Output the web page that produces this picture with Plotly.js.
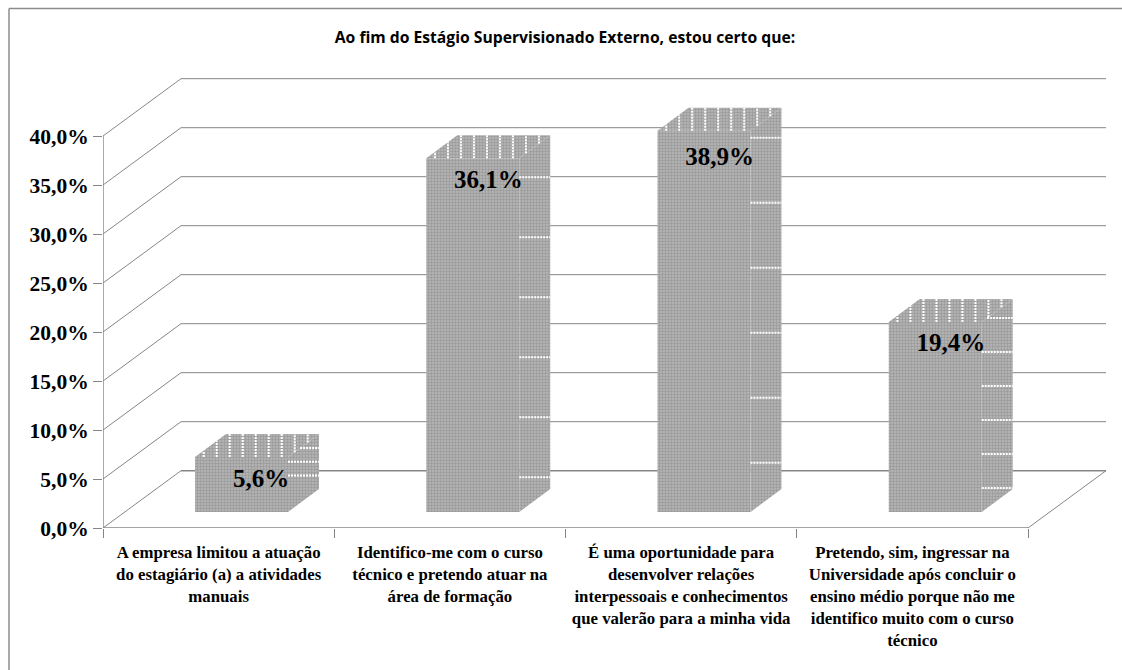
<!DOCTYPE html>
<html>
<head>
<meta charset="utf-8">
<script src="https://cdn.plot.ly/plotly-3.0.1.min.js"></script>
<style>html,body{margin:0;padding:0;background:#fff}#chart{width:1122px;height:670px}</style>
</head>
<body>
<div id="chart"></div>
<script>
// Survey answers, in percent
const categories = [
  "A empresa limitou a atuação<br>do estagiário (a) a atividades<br>manuais",
  "Identifico-me com o curso<br>técnico e pretendo atuar na<br>área de formação",
  "É uma oportunidade para<br>desenvolver relações<br>interpessoais e conhecimentos<br>que valerão para a minha vida",
  "Pretendo, sim, ingressar na<br>Universidade após concluir o<br>ensino médio porque não me<br>identifico muito com o curso<br>técnico"
];
const values = [5.6, 36.1, 38.9, 19.4];
const axisTicks = [0, 5, 10, 15, 20, 25, 30, 35, 40];

// Pixel scales of the two linear axes
const W = 1122, H = 670;
const margin = {l: 103, r: 15, t: 78, b: 142};
const unitX = 231.25;                 // px per category
const unitY = 9.8;                    // px per percentage point
const px = v => v / unitX;
const py = v => v / unitY;
const pct = v => v.toFixed(1).replace('.', ',') + '%';

// Oblique projection: depth of the box and of the columns inside it
const wallDX = px(78), wallDY = py(57.3);
const barLeft = px(92), barWidth = px(93);
const barLift = py(16);
const barDX = px(31), barDY = py(23);

const gridColor = '#868686';
const serif = '"Liberation Serif", "Times New Roman", serif';

// Back wall, left wall and floor
const shapes = [];
const seg = (x0, y0, x1, y1, w) => shapes.push({
  type: 'line', xref: 'x', yref: 'y', layer: 'below',
  x0, y0, x1, y1, line: {color: gridColor, width: w || 1}
});
axisTicks.forEach(t => {
  seg(wallDX, t + wallDY, categories.length + wallDX, t + wallDY, t === 0 ? 1.4 : 1);
  seg(0, t, wallDX, t + wallDY);
});
seg(0, 0, 0, axisTicks[axisTicks.length - 1], 1.4);
seg(0, 0, categories.length, 0, 1.4);
seg(categories.length, 0, categories.length + wallDX, wallDY);

// Chart frame: only the top and left edges are ruled
[[9, 8.5, W, 8.5], [9, 8.5, 9, H]].forEach(([a, b, c, d]) => shapes.push({
  type: 'line', xref: 'paper', yref: 'paper', layer: 'below',
  x0: (a - margin.l) / (W - margin.l - margin.r),
  x1: (c - margin.l) / (W - margin.l - margin.r),
  y0: 1 - (b - margin.t) / (H - margin.t - margin.b),
  y1: 1 - (d - margin.t) / (H - margin.t - margin.b),
  line: {color: '#8c8c8c', width: 1.5}
}));

// Fine dither shared by every face
const dither = {shape: '.', size: 3, solidity: 0.5, fgcolor: '#999999', bgcolor: '#b9b9b9'};

const traces = [];

// Front faces
traces.push({
  type: 'bar',
  x: values.map((_, i) => i + barLeft + barWidth / 2),
  y: values,
  base: values.map(() => barLift),
  width: barWidth,
  marker: {color: '#a6a6a6', line: {width: 0}, pattern: dither},
  hoverinfo: 'skip', showlegend: false
});

// Top and side faces of each column
values.forEach((v, i) => {
  const x0 = i + barLeft, x1 = x0 + barWidth, yb = barLift, yt = barLift + v;
  traces.push({
    type: 'scatter', mode: 'lines', fill: 'toself', line: {width: 0}, fillcolor: '#a6a6a6', fillpattern: dither,
    x: [x0, x1, x1 + barDX, x0 + barDX, x0],
    y: [yt, yt, yt + barDY, yt + barDY, yt],
    hoverinfo: 'skip', showlegend: false
  });
  traces.push({
    type: 'scatter', mode: 'lines', fill: 'toself', line: {width: 0}, fillcolor: '#a6a6a6', fillpattern: dither,
    x: [x1, x1 + barDX, x1 + barDX, x1, x1],
    y: [yb, yb + barDY, yt + barDY, yt, yb],
    hoverinfo: 'skip', showlegend: false
  });
});

// White weave on the top faces (vertical) and side faces (horizontal)
const sideGap = [13.7, 60, 65, 34];
const sideStart = [14, 42, 30, 19];
const sx = [], sy = [];
values.forEach((v, i) => {
  const x0 = i + barLeft, x1 = x0 + barWidth, yt = barLift + v;
  for (let k = -1; k < 8; k++) {
    const x = x0 + px(21.7 + 13 * k);
    const low = x > x1 ? yt + (x - x1) / barDX * barDY : yt;
    const high = x < x0 + barDX ? yt + (x - x0) / barDX * barDY : yt + barDY;
    sx.push(x, x, null); sy.push(low, high, null);
  }
  const backTop = yt + barDY, backBase = barLift + barDY;
  for (let y = backTop - py(sideStart[i]); y > backBase; y -= py(sideGap[i])) {
    const x = y > yt ? x1 + (y - yt) / barDY * barDX : x1;
    sx.push(x, x1 + barDX, null); sy.push(y, y, null);
  }
});
traces.push({
  type: 'scatter', mode: 'lines', x: sx, y: sy,
  line: {color: '#ffffff', width: 2, dash: '2px,1px'},
  hoverinfo: 'skip', showlegend: false, connectgaps: false
});

// Value labels
const labelShift = [66, 62, 62, 62];
const labelDrop = [24, 24, 28, 23];
traces.push({
  type: 'scatter', mode: 'text',
  x: values.map((_, i) => i + barLeft + px(labelShift[i])),
  y: values.map((v, i) => barLift + v - py(labelDrop[i])),
  text: values.map(pct),
  textposition: 'middle center',
  textfont: {family: serif, size: 25, color: '#000', weight: 'bold'},
  hoverinfo: 'skip', showlegend: false
});

const layout = {
  width: W, height: H, margin,
  paper_bgcolor: '#fff', plot_bgcolor: 'rgba(0,0,0,0)',
  showlegend: false, shapes,
  title: {
    text: '<b>Ao fim do Estágio Supervisionado Externo, estou certo que:</b>',
    font: {family: '"Open Sans", Lato, sans-serif', size: 15.7, color: '#000'},
    x: 565 / W, xanchor: 'center', xref: 'container',
    y: 1 - 38 / H, yanchor: 'middle', yref: 'container'
  },
  xaxis: {
    range: [0, px(W - margin.l - margin.r)], fixedrange: true,
    showgrid: false, zeroline: false, showline: false,
    tickmode: 'array',
    tickvals: categories.map((_, i) => i + 0.5),
    ticktext: categories,
    ticks: 'outside', ticklen: 9, tickcolor: 'rgba(0,0,0,0)',
    tickfont: {family: serif, size: 16.8, color: '#000', weight: 'bold'},
    minor: {
      tickmode: 'array', tickvals: categories.map((_, i) => i).concat(categories.length),
      ticks: 'outside', ticklen: 9, tickcolor: gridColor, tickwidth: 1, showgrid: false
    }
  },
  yaxis: {
    range: [0, py(H - margin.t - margin.b)], fixedrange: true,
    showgrid: false, zeroline: false, showline: false,
    tickmode: 'array', tickvals: axisTicks,
    ticktext: axisTicks.map(pct),
    ticks: 'outside', ticklen: 9, tickcolor: gridColor, tickwidth: 1,
    tickfont: {family: serif, size: 21.5, color: '#000', weight: 'bold'}
  }
};

Plotly.newPlot('chart', traces, layout, {displayModeBar: false, responsive: false});
</script>
</body>
</html>
